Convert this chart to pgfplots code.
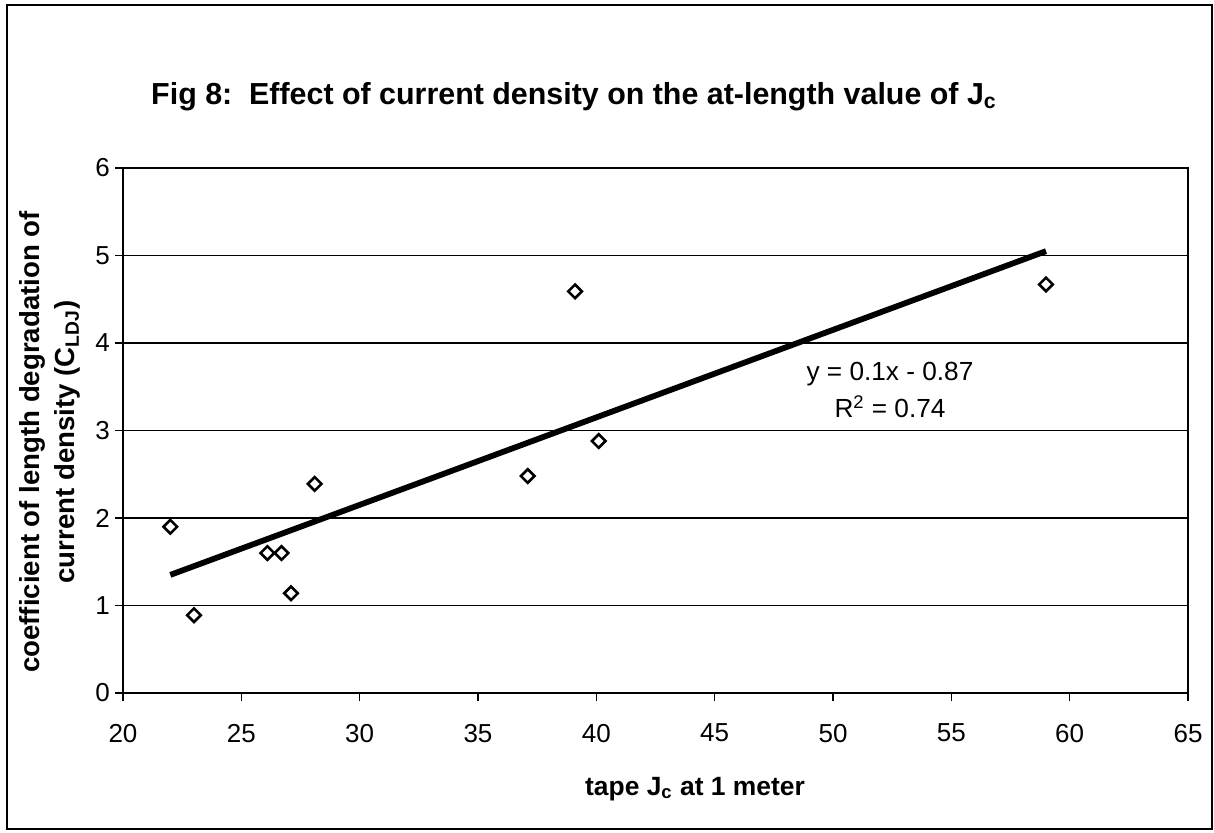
\documentclass[border=0pt]{standalone}
\usepackage{fontspec}
\setmainfont{Liberation Sans}
\usepackage{pgfplots}
\pgfplotsset{compat=1.18}

\begin{document}
\begin{tikzpicture}
% page frame, title and labels in pixel units of the reference (y down)
\begin{scope}[x=0.5pt,y=-0.5pt]
\path[use as bounding box] (0,0) rectangle (1214,832);
\draw[line width=1pt] (7,5) rectangle (1212,829);
\node[anchor=base, font=\fontsize{15.2}{17}\selectfont\bfseries]
  at (574,104) {Fig 8:\ \ Effect of current density on the at-length value of J\textsubscript{c}};
\node[anchor=base, font=\fontsize{13.2}{15}\selectfont\bfseries]
  at (695,795) {tape J\textsubscript{c} at 1 meter};
\node[rotate=90, align=center, font=\fontsize{13.8}{17.5}\selectfont\bfseries]
  at (50,442) {coefficient of length degradation of\\current density (C\textsubscript{LDJ})};
\node[anchor=base, font=\fontsize{13.1}{15}\selectfont] at (890,380) {y = 0.1x - 0.87};
\node[anchor=base, font=\fontsize{13.1}{15}\selectfont] at (890,417) {R\textsuperscript{2} = 0.74};
\end{scope}

\begin{axis}[
  at={(61.5pt,-346.5pt)}, anchor=south west,
  scale only axis, width=532.5pt, height=262.5pt,
  xmin=20, xmax=65, ymin=0, ymax=6,
  xtick={20,25,...,65}, ytick={0,1,...,6},
  xtick pos=bottom, ytick pos=left,
  tick align=outside, major tick length=4pt,
  tick style={black, line width=0.8pt},
  axis line style={line width=1pt},
  ymajorgrids=true,
  grid style={black, line width=0.8pt},
  /pgf/number format/assume math mode=true,
  ticklabel style={font=\fontsize{13}{15}\selectfont},
  xticklabel style={yshift=-8pt},
  yticklabel style={xshift=1pt},
  clip=false,
]
\addplot[only marks, mark=square, mark size=2.4pt,
  mark options={rotate=45, line width=1.3pt, fill=white}]
  coordinates {
  (22.0,1.90) (23.0,0.89) (26.1,1.60) (26.7,1.60) (27.1,1.14)
  (28.1,2.39) (37.1,2.48) (39.1,4.59) (40.1,2.88) (59.0,4.67)
  };
\addplot[black, line width=2.9pt, no marks]
  coordinates {(22,1.35) (59,5.05)};
\end{axis}
\end{tikzpicture}
\end{document}
